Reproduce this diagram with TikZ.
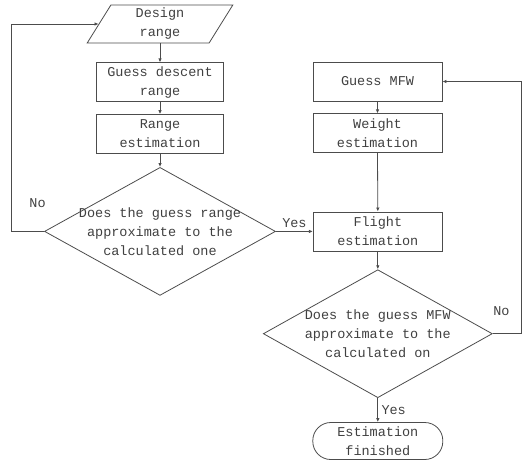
\documentclass[tikz,border=0pt]{standalone}
\usepackage{fontspec}
\setmonofont{Liberation Mono}
\usetikzlibrary{positioning,shapes.geometric,arrows.meta}

\begin{document}
\begin{tikzpicture}[
    x=1pt, y=-1pt,
    font=\ttfamily\fontsize{13.5}{19}\selectfont,
    every node/.style={text=black!75},
    procbox/.style={rectangle, draw=black!70, line width=0.8pt, minimum width=127pt, minimum height=39pt, inner sep=1pt, align=center},
    inputbox/.style={trapezium, trapezium left angle=70, trapezium right angle=110, trapezium stretches=true, draw=black!70, line width=0.8pt, minimum width=146pt, minimum height=38pt, inner sep=1pt, align=center},
    decision/.style={diamond, draw=black!70, line width=0.8pt, minimum width=231pt, minimum height=128pt, inner sep=0pt},
    endbox/.style={rectangle, rounded corners=18pt, draw=black!70, line width=0.8pt, minimum width=130pt, minimum height=37pt, inner sep=1pt, align=center},
    arrow/.style={-{Latex[length=4pt,width=3.5pt]}, line width=0.8pt, black!70},
]
\useasboundingbox (0,0) rectangle (524,461);

% === RANGE LOOP ===
\node[inputbox] at (160,24) (design) {Design\\range};
\node[procbox, below=19pt of design] (guess-range) {Guess descent\\range};
\node[procbox, below=12pt of guess-range] (range-est) {Range\\estimation};
\node[decision, below=13pt of range-est, label={[align=center]center:{Does the guess range\\approximate to the\\calculated one}}] (range-check) {};

% === WEIGHT LOOP ===
\node[procbox, minimum width=129pt] at (377.5,81.5) (guess-mfw) {Guess MFW};
\node[procbox, minimum width=129pt, below=12pt of guess-mfw] (weight-est) {Weight\\estimation};
\node[procbox, minimum width=129pt, right=37pt of range-check] (flight-est) {Flight\\estimation};
\node[decision, minimum width=229pt, below=18pt of flight-est, label={[align=center]center:{Does the guess MFW\\approximate to the\\calculated on}}] (mfw-check) {};
\node[endbox, below=24pt of mfw-check] (finished) {Estimation\\finished};

% === ARROWS ===
\draw[arrow] (design.south) -- (guess-range.north);
\draw[arrow] (guess-range.south) -- (range-est.north);
\draw[arrow] (range-est.south) -- (range-check.north);

% No: back to design range
\draw[arrow] (range-check.west) -- node[pos=0.2, above=20pt] {No} ++(-33,0) |- (design.left side);

% Yes: on to flight estimation
\draw[arrow] (range-check.east) -- node[above] {Yes} (flight-est.west);

\draw[arrow] (guess-mfw.south) -- (weight-est.north);
\draw[arrow] (weight-est.south) -- (flight-est.north);
\draw[arrow] (flight-est.south) -- (mfw-check.north);

% No: back to guess MFW
\draw[arrow] (mfw-check.east) -- node[pos=0.3, above=14pt] {No} ++(29,0) |- (guess-mfw.east);

% Yes: finished
\draw[arrow] (mfw-check.south) -- node[right] {Yes} (finished.north);

\end{tikzpicture}
\end{document}
